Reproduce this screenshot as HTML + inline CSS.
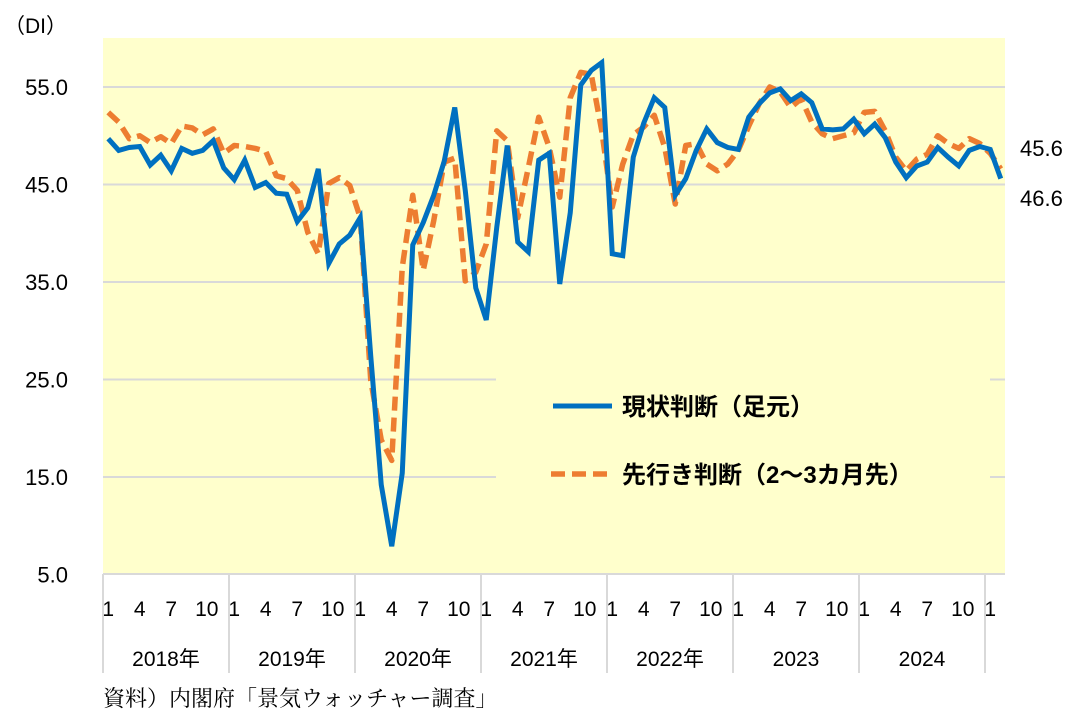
<!DOCTYPE html>
<html><head><meta charset="utf-8"><style>
body{margin:0;background:#fff;}
svg{display:block;font-family:"Liberation Sans","Noto Sans CJK JP",sans-serif;}
</style></head><body>
<svg id="chart" width="1082" height="718" viewBox="0 0 1082 718">
<rect x="103" y="38" width="902" height="536" fill="#FFFFCC"/>
<g id="grid"></g>
<rect x="496" y="362" width="494" height="132" fill="#FFFFCC"/>
<g id="yaxis"></g>
<g id="xaxis"></g>
<g id="series"></g>
<text x="4" y="33" font-size="21" fill="#000">（DI）</text>
<g>
<line x1="553" y1="406" x2="612" y2="406" stroke="#0070C0" stroke-width="5"/>
<text x="622" y="415" font-size="24" font-weight="bold" fill="#000">現状判断（足元）</text>
<line x1="551" y1="474" x2="612" y2="474" stroke="#ED7D31" stroke-width="5.5" stroke-dasharray="14,7"/>
<text x="622" y="483" font-size="24" font-weight="bold" fill="#000">先行き判断（2～3カ月先）</text>
</g>
<text x="1020" y="156" font-size="22" fill="#000">45.6</text>
<text x="1020" y="206" font-size="22" fill="#000">46.6</text>
<text x="103" y="706" font-size="22" font-family="'Liberation Serif','Noto Serif CJK SC',serif" fill="#000">資料）内閣府「景気ウォッチャー調査」</text>
</svg>
<script>
const yearLabels=["2018年","2019年","2020年","2021年","2022年","2023","2024"];
const monthTicks=["1","4","7","10"];
const yTicks=[5,15,25,35,45,55];
const current=[49.7,48.5,48.8,48.9,47.0,48.0,46.4,48.7,48.2,48.5,49.5,46.7,
45.5,47.5,44.7,45.2,44.1,44.0,41.2,42.6,46.6,36.9,38.9,39.8,
41.6,27.4,14.2,7.9,15.4,38.8,41.1,43.9,47.4,52.9,44.4,34.4,
31.1,40.6,49.0,39.1,38.1,47.5,48.2,34.8,42.1,55.2,56.7,57.5,
37.9,37.7,47.8,51.3,53.9,52.9,43.9,45.6,48.5,50.7,49.3,48.8,
48.6,51.9,53.3,54.4,54.8,53.6,54.3,53.4,50.7,50.6,50.7,51.7,
50.2,51.2,49.8,47.3,45.7,46.9,47.3,48.8,47.8,46.9,48.5,48.9,
48.6,45.6];
const outlook=[52.4,51.4,49.7,50.0,49.3,49.9,49.2,51.0,50.8,50.1,50.7,48.2,
49.0,48.9,48.7,48.4,45.9,45.6,44.4,40.1,37.9,45.1,45.7,44.9,
41.6,24.9,18.8,16.7,36.5,43.9,36.2,41.3,47.3,47.7,35.1,36.0,
38.9,50.5,49.5,41.6,46.7,51.9,48.8,43.7,53.9,56.5,56.3,50.5,
42.7,47.1,50.1,50.9,52.1,48.8,43.0,49.0,49.2,47.1,46.4,47.1,
48.5,51.0,53.3,55.0,54.5,52.9,53.8,51.4,50.2,49.7,50.0,50.3,
52.4,52.5,50.5,47.8,46.4,47.6,48.1,50.0,49.2,48.7,49.7,49.2,
48.2,46.6];
const NS="http://www.w3.org/2000/svg";
const X0=103,MW=10.5,Y55=87,PXU=9.75;
function xPos(i){return X0+MW*(i+0.5);}
function yPos(v){return Y55+(55-v)*PXU;}
function mk(tag,attrs,parent){const e=document.createElementNS(NS,tag);for(const k in attrs)e.setAttribute(k,attrs[k]);parent.appendChild(e);return e;}
const grid=document.getElementById('grid'),ya=document.getElementById('yaxis'),xa=document.getElementById('xaxis'),se=document.getElementById('series');
yTicks.forEach(v=>{
  if(v>5){const l=mk('line',{x1:X0,x2:1005,y1:yPos(v),y2:yPos(v),stroke:'#D9D9D9','stroke-width':2},grid);
  
  }
  const t=mk('text',{x:68,y:yPos(v)+8,'text-anchor':'end','font-size':22,fill:'#000'},ya);
  t.textContent=v.toFixed(1);
  
  
});
const ax=mk('line',{x1:X0,x2:1005,y1:574,y2:574,stroke:'#D9D9D9','stroke-width':2},xa);


for(let y=0;y<=yearLabels.length;y++){
  const bx=X0+MW*12*y;
  const l=mk('line',{x1:bx,x2:bx,y1:574,y2:673,stroke:'#D9D9D9','stroke-width':2},xa);
  
  
  if(y<yearLabels.length){
    const t=mk('text',{x:bx+63,y:666,'text-anchor':'middle','font-size':21,fill:'#000'},xa);
    t.textContent=yearLabels[y];
    
    
  }
}
const nMonths=current.length;
for(let i=0;i<nMonths;i++){
  const m=i%12;
  const idx=[0,3,6,9].indexOf(m);
  if(idx<0)continue;
  const t=mk('text',{x:xPos(i)+(m===9?4:0),y:616,'text-anchor':'middle','font-size':21,fill:'#000'},xa);
  t.textContent=monthTicks[idx];
  
  
}
const p2=mk('polyline',{points:outlook.map((v,i)=>xPos(i)+','+yPos(v)).join(' '),fill:'none',stroke:'#ED7D31','stroke-width':5.5,'stroke-dasharray':'14,7','stroke-linejoin':'round'},se);


const p1=mk('polyline',{points:current.map((v,i)=>xPos(i)+','+yPos(v)).join(' '),fill:'none',stroke:'#0070C0','stroke-width':5,'stroke-linejoin':'miter'},se);


</script>
</body></html>
